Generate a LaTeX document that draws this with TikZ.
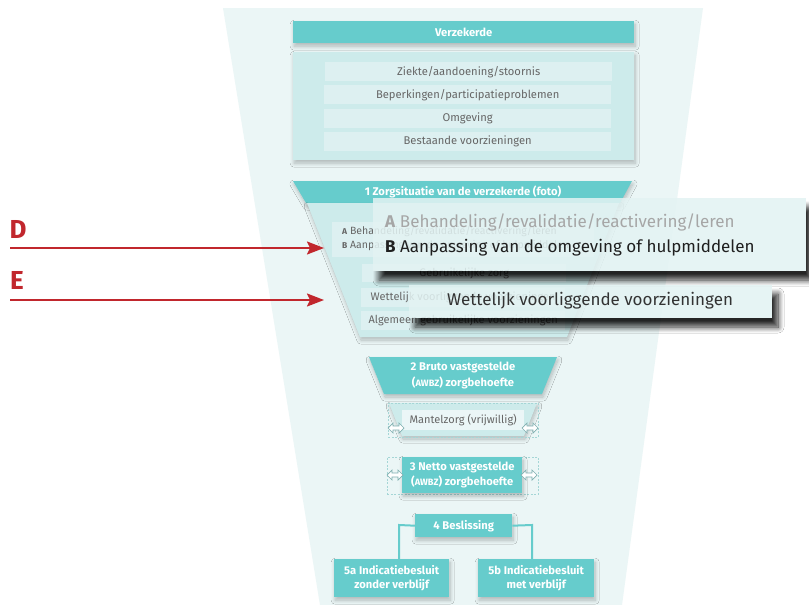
\documentclass[tikz,border=0pt]{standalone}
\usepackage{fontspec}
\setmainfont{Fira Sans}
\usetikzlibrary{arrows.meta,shadows.blur,calc}
\definecolor{teal1}{HTML}{66CCCC}
\definecolor{bgtrap}{HTML}{EBF6F6}
\definecolor{lightbox}{HTML}{CDEBEB}
\definecolor{rowbox}{HTML}{DDF0F1}
\definecolor{greytxt}{HTML}{666666}
\definecolor{redarr}{HTML}{C1272D}
\definecolor{callout}{HTML}{E3F3F3}
\definecolor{dashc}{HTML}{A5D6D6}
\definecolor{arrowedge}{HTML}{7FAFB0}
\tikzset{
  hdr/.style={fill=teal1, text=white, inner sep=0pt, align=center,
    font=\bfseries\fontsize{11.2}{15.5}\selectfont},
  hdrtext/.style={text=white, inner sep=0pt, align=center,
    font=\bfseries\fontsize{11.2}{16}\selectfont},
  rowbox/.style={fill=rowbox, text=greytxt, inner sep=0pt,
    font=\fontsize{11.2}{13}\selectfont},
  frow/.style={fill=rowbox, text=greytxt, inner sep=0pt,
    font=\fontsize{11}{13}\selectfont},
  soft/.style={blur shadow={shadow xshift=1pt, shadow yshift=-3pt,
    shadow blur steps=8, shadow opacity=25, shadow blur radius=4pt}},
  calloutbox/.style={fill=callout, fill opacity=0.86, inner sep=0pt},
  calloutshadow/.style={blur shadow={shadow xshift=6pt, shadow yshift=-9pt,
    shadow blur steps=10, shadow opacity=85, shadow blur radius=6pt}},
  dashbox/.style={draw=dashc, line width=0.6pt, dash pattern=on 2pt off 1.5pt, fill=none},
  conn/.style={draw=teal1, line width=2pt},
  redarrow/.style={draw=redarr, line width=2pt, -{Stealth[length=17pt,width=13pt,inset=3pt]}},
  redlabel/.style={text=redarr, inner sep=0pt, font=\bfseries\fontsize{26}{26}\selectfont},
  dblarr/.pic={\draw[draw=arrowedge, fill=white, line width=0.7pt, line join=miter]
    (-8,0) -- (-3,-5) -- (-3,-2) -- (3,-2) -- (3,-5) -- (8,0) -- (3,5) -- (3,2)
    -- (-3,2) -- (-3,5) -- cycle;}
}
\begin{document}
\begin{tikzpicture}[x=1pt,y=-1pt]
\useasboundingbox[fill=white] (0,0) rectangle (809,605);
% background funnel
\fill[bgtrap] (223,8) -- (703,8) -- (622,605) -- (320,605) -- cycle;

% top block
\node[hdr, soft, minimum width=341pt, minimum height=22pt, anchor=north west] (verz) at (293,21) {Verzekerde};
\node[fill=lightbox, soft, inner sep=0pt, minimum width=341pt, minimum height=108pt, anchor=north west] (verzbox) at (293,52) {};
\node[rowbox, minimum width=287pt, minimum height=19pt, anchor=north west] (r1) at (325,62) {Ziekte/aandoening/stoornis};
\node[rowbox, minimum width=287pt, minimum height=19pt, anchor=north west] (r2) at (324,85) {Beperkingen/participatieproblemen};
\node[rowbox, minimum width=287pt, minimum height=19pt, anchor=north west] (r3) at (324,109) {Omgeving};
\node[rowbox, minimum width=287pt, minimum height=19pt, anchor=north west] (r4) at (324,132) {Bestaande voorzieningen};

% 1 zorgsituatie
\fill[teal1, soft] (293,181) -- (632,181) -- (620,203) -- (306,203) -- cycle;
\node[hdrtext] (zorg) at (463,192) {1 Zorgsituatie van de verzekerde (foto)};
\fill[lightbox, soft] (307,203) -- (619,203) -- (567,337) -- (360,337) -- cycle;
\node[frow, minimum width=262pt, minimum height=35pt, anchor=north west] (ab) at (332,222) {};
\node[text=greytxt, inner sep=0pt, anchor=west, align=left, font=\fontsize{10.5}{14}\selectfont] (abt) at (342,238)
  {{\bfseries\fontsize{8.5}{9}\selectfont A} Behandeling/revalidatie/reactivering/leren\\
   {\bfseries\fontsize{8.5}{9}\selectfont B} Aanpassing van de omgeving of hulpmiddelen};
\node[frow, minimum width=204pt, minimum height=18pt, anchor=north west] (gz) at (362,264) {Gebruikelijke zorg};
\node[frow, minimum width=204pt, minimum height=19pt, anchor=north west] (wv) at (361,288) {Wettelijk voorliggende voorzieningen};
\node[frow, minimum width=204pt, minimum height=19pt, anchor=north west] (ag) at (361,311) {Algemeen gebruikelijke voorzieningen};

% 2 bruto
\fill[teal1, soft] (369,357) -- (557,357) -- (542,394) -- (384,394) -- cycle;
\node[hdrtext] (bruto) at (463,375) {2 Bruto vastgestelde\\({\fontsize{9.2}{10}\selectfont AWBZ}) zorgbehoefte};

% mantelzorg
\fill[lightbox, soft] (389,403) -- (537,403) -- (524,436) -- (402,436) -- cycle;
\node[dashbox, inner sep=0pt, minimum width=150pt, minimum height=34pt, anchor=north west] (mzframe) at (388,403) {};
\node[frow, fill=rowbox!60!white, minimum width=122pt, minimum height=20pt, anchor=north west] (mz) at (402,410) {Mantelzorg (vrijwillig)};
\pic at (396,428) {dblarr};
\pic at (530,428) {dblarr};

% 3 netto
\node[dashbox, inner sep=0pt, minimum width=151pt, minimum height=37pt, anchor=north west] (nframe) at (387,457) {};
\node[hdr, soft, minimum width=120pt, minimum height=36pt, anchor=north west, font=\bfseries\fontsize{11.2}{15}\selectfont] (netto) at (402,457) {3 Netto vastgestelde\\({\fontsize{9.2}{10}\selectfont AWBZ}) zorgbehoefte};
\pic at (395,475) {dblarr};
\pic at (529,475) {dblarr};

% 4 beslissing
\node[hdr, soft, minimum width=97pt, minimum height=23pt, anchor=north west] (besl) at (415,514) {4 Beslissing};
\node[hdr, soft, minimum width=115pt, minimum height=38pt, anchor=north west, font=\bfseries\fontsize{11.2}{14.5}\selectfont] (ia) at (334,559) {5a Indicatiebesluit\\zonder verblijf};
\node[hdr, soft, minimum width=116pt, minimum height=38pt, anchor=north west, font=\bfseries\fontsize{11.2}{14.5}\selectfont] (ib) at (478,559) {5b Indicatiebesluit\\met verblijf};
\coordinate (ca) at (399,525);
\coordinate (cb) at (532,525);
\draw[conn] (besl.west) -- (ca) -- (ca |- ia.north);
\draw[conn] (besl.east) -- (cb) -- (cb |- ib.north);

% callout shadows (outside the boxes only)
\begin{scope}
  \clip (0,0) -- (809,0) -- (809,605) -- (0,605) -- cycle
        (373,198) -- (373,271) -- (806,271) -- (806,198) -- cycle;
  \path[calloutshadow] (373,198) rectangle (806,271);
\end{scope}
\begin{scope}
  \clip (0,0) -- (809,0) -- (809,605) -- (0,605) -- cycle
        (409,285) -- (409,318) -- (772,318) -- (772,285) -- cycle;
  \path[calloutshadow] (409,285) rectangle (772,318);
\end{scope}
\node[calloutbox, minimum width=433pt, minimum height=73pt, anchor=north west] (co1) at (373,198) {};
\node[calloutbox, minimum width=363pt, minimum height=33pt, anchor=north west] (co2) at (409,285) {};
\node[inner sep=0pt, anchor=west, text=black!35, font=\fontsize{17}{19}\selectfont] (coa) at (385,222)
  {\textbf{A} Behandeling/revalidatie/reactivering/leren};
\node[inner sep=0pt, anchor=west, text=black!88, font=\fontsize{17}{19}\selectfont] (cob) at (385,248)
  {\textbf{B} Aanpassing van de omgeving of hulpmiddelen};
\node[inner sep=0pt, anchor=west, text=black!80, font=\fontsize{17}{19}\selectfont] (cow) at (447,301)
  {Wettelijk voorliggende voorzieningen};

% D and E arrows
\node[redlabel] (D) at (18,229) {D};
\node[redlabel] (E) at (17,280) {E};
\coordinate (ds) at (10,248);
\coordinate (dt) at (324,248);
\coordinate (es) at (10,300);
\coordinate (et) at (324,300);
\draw[redarrow] (ds) -- (dt);
\draw[redarrow] (es) -- (et);
\end{tikzpicture}
\end{document}
